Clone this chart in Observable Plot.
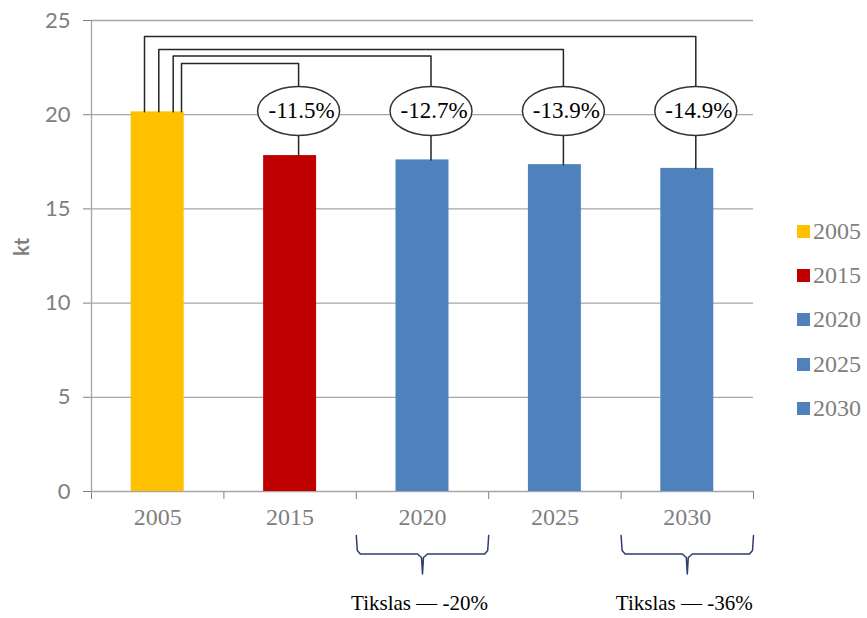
<!DOCTYPE html>
<html>
<head>
<meta charset="utf-8">
<script src="https://cdn.jsdelivr.net/npm/d3@7"></script>
<script src="https://cdn.jsdelivr.net/npm/@observablehq/plot@0.6"></script>
<style>
  html, body { margin: 0; padding: 0; background: #fff; }
  #wrap { position: relative; width: 867px; height: 618px; overflow: hidden; }
  #wrap svg { position: absolute; left: 0; top: 0; }
  #legend { position: absolute; left: 797px; top: 209px; font-family: "Liberation Serif", "Times New Roman", serif; font-size: 24px; color: #7f7f7f; }
  #legend .row { height: 44.3px; display: flex; align-items: center; }
  #legend .sw { width: 13px; height: 13px; margin-right: 3px; }
</style>
</head>
<body>
<div id="wrap"></div>
<script>
// ---- data ----
const years = ["2005", "2015", "2020", "2025", "2030"];
const values = [20.15, 17.83, 17.6, 17.35, 17.15];          // kt
const colors = ["#FFC000", "#C00000", "#4F81BD", "#4F81BD", "#4F81BD"];
const changeYears = ["2015", "2020", "2025", "2030"];
const changeLabels = ["-11.5%", "-12.7%", "-13.9%", "-14.9%"];
const targetYears = ["2020", "2030"];
const targetLabels = ["Tikslas \u2014 -20%", "Tikslas \u2014 -36%"];
const yTicks = [0, 5, 10, 15, 20, 25];

// ---- layout constants (px) ----
const W = 770, H = 618, mL = 91, mR = 17, mT = 20, mB = 127;
const ux = 5 / (W - mL - mR);          // x data units per px
const uy = 25 / (H - mT - mB);         // y data units per px
const serif = "'Liberation Serif', 'Times New Roman', serif";

const rows = years.map((year, i) => ({i, year, value: values[i]}));
const idx = y => years.indexOf(y);
const v0 = values[0];

// connectors from the 2005 bar to each later bar
const startOff = [23.8, 15.5, 1.1, -13.2];     // px from 2005 bar centre
const levelPx = [63, 55.5, 49, 36];            // px from top of svg
const endOff = 8.5;
const connectors = [];
changeYears.forEach((y, k) => {
  const j = idx(y);
  const xs = 0.5 + startOff[k] * ux;
  const xe = j + 0.5 + endOff * ux;
  const lvl = 25 - (levelPx[k] - mT) * uy;
  [[xs, v0], [xs, lvl], [xe, lvl], [xe, values[j]]].forEach(([x, yv]) => connectors.push({k, x, y: yv}));
});
const bubbles = changeYears.map((y, k) => ({x: idx(y) + 0.5 + endOff * ux, y: 20.2, label: changeLabels[k]}));

// ellipse symbol
const ellipse = {
  draw(ctx) {
    const rx = 41, ry = 24.5, kx = rx * 0.5523, ky = ry * 0.5523;
    ctx.moveTo(-rx, 0);
    ctx.bezierCurveTo(-rx, -ky, -kx, -ry, 0, -ry);
    ctx.bezierCurveTo(kx, -ry, rx, -ky, rx, 0);
    ctx.bezierCurveTo(rx, ky, kx, ry, 0, ry);
    ctx.bezierCurveTo(-kx, ry, -rx, ky, -rx, 0);
    ctx.closePath();
  }
};

// brackets under the target years
const brackets = [];
targetYears.forEach((y, t) => {
  const a = idx(y), b = a + 1, c = a + 0.5;
  const pts = [[a, 0, 44], [a, 1, 59], [a, 4, 62.5], [c, -5, 62.5], [c, -1, 66], [c, 0, 82.5],
               [c, 1, 66], [c, 5, 62.5], [b, -4, 62.5], [b, -1, 59], [b, 0, 44]];
  pts.forEach(([base, dxp, dyp]) => brackets.push({t, x: base + dxp * ux, y: -dyp * uy}));
});
const targets = targetYears.map((y, t) => ({x: idx(y) + 0.5, label: targetLabels[t]}));

const chart = Plot.plot({
  width: W, height: H,
  marginLeft: mL, marginRight: mR, marginTop: mT, marginBottom: mB,
  style: {fontFamily: "Lato, sans-serif", fontSize: "22px", color: "#808080", background: "white", overflow: "visible"},
  x: {domain: [0, 5], ticks: [0, 1, 2, 3, 4, 5], tickFormat: () => "", tickSize: 8, label: null},
  y: {domain: [0, 25], ticks: yTicks, tickSize: 8, tickPadding: 13, label: null},
  color: {type: "ordinal", domain: years, range: colors},
  marks: [
    Plot.ruleY(yTicks, {stroke: "#a6a6a6", strokeWidth: 1.3}),
    Plot.ruleX([0], {stroke: "#a6a6a6", strokeWidth: 1.3}),
    Plot.rectY(rows, {x1: d => d.i + 0.3, x2: d => d.i + 0.7, y1: 0, y2: "value", fill: "year"}),
    Plot.line(connectors, {x: "x", y: "y", z: "k", stroke: "#262626", strokeWidth: 1.5}),
    Plot.dot(bubbles, {x: "x", y: "y", symbol: ellipse, fill: "white", stroke: "#333", strokeWidth: 1.5}),
    Plot.text(bubbles, {x: "x", y: "y", text: "label", dx: 3, fontFamily: serif, fontSize: 23, fill: "black"}),
    Plot.text(rows, {x: d => d.i + 0.5, text: "year", frameAnchor: "bottom", dy: 33, fontFamily: serif, fontSize: 24, fill: "#7f7f7f"}),
    Plot.text(["kt"], {frameAnchor: "left", dx: -69, rotate: -90, text: d => d, fontWeight: "bold", fontSize: 20, fill: "#7f7f7f"}),
    Plot.line(brackets, {x: "x", y: "y", z: "t", stroke: "#2F3D6B", strokeWidth: 1.5}),
    Plot.text(targets, {x: "x", text: "label", frameAnchor: "bottom", dy: 118, dx: -3, fontFamily: serif, fontSize: 21, fill: "black"})
  ]
});
const wrap = document.getElementById("wrap");
wrap.appendChild(chart);

// legend from the chart's colour scale
const cs = chart.scale("color");
const legend = document.createElement("div");
legend.id = "legend";
cs.domain.forEach((d, i) => {
  const row = document.createElement("div");
  row.className = "row";
  const sw = document.createElement("span");
  sw.className = "sw";
  sw.style.background = cs.range[i];
  const lab = document.createElement("span");
  lab.textContent = d;
  row.appendChild(sw); row.appendChild(lab);
  legend.appendChild(row);
});
wrap.appendChild(legend);
</script>
</body>
</html>
